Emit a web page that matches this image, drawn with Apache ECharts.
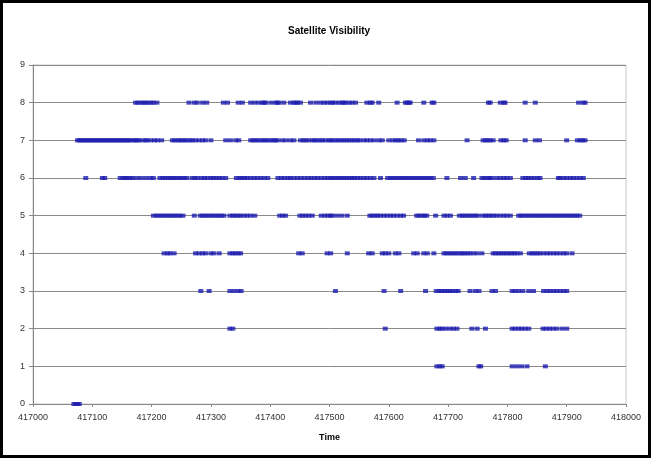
<!DOCTYPE html>
<html><head><meta charset="utf-8">
<script src="https://cdn.jsdelivr.net/npm/echarts@6/dist/echarts.min.js"></script>
<style>html,body{margin:0;padding:0;background:#fff}#c{width:652px;height:460px}</style>
</head><body><div id="c"></div><script>
const chartTitle = 'Satellite Visibility';
const xAxisName = 'Time';
const xTicks = [417000, 417100, 417200, 417300, 417400, 417500, 417600, 417700, 417800, 417900, 418000];
const yTicks = [0, 1, 2, 3, 4, 5, 6, 7, 8, 9];

// Times (x) at which the given number of satellites was visible
const sat0 = [417069, 417072, 417075, 417078];
const sat1 = [417681, 417686, 417690, 417752, 417755, 417808, 417816, 417824, 417833, 417864];
const sat2 = [417332, 417337, 417594, 417681, 417686, 417690, 417696, 417703, 417709, 417715, 417740, 417749, 417763,
  417808, 417813, 417819, 417824, 417830, 417836, 417860, 417865, 417871, 417877, 417883, 417892, 417900];
const sat3 = [417283, 417297, 417332, 417339, 417346, 417351, 417510, 417592, 417620, 417662,
  417680, 417685, 417689, 417694, 417698, 417703, 417707, 417713, 417717, 417737, 417746, 417752, 417774, 417780,
  417808, 417813, 417819, 417826, 417836, 417844, 417861, 417867, 417872, 417878, 417883, 417889, 417895, 417900];
const sat4 = [417221, 417227, 417231, 417238, 417274, 417280, 417286, 417291, 417300, 417305, 417314,
  417332, 417337, 417341, 417346, 417350, 417448, 417454, 417496, 417502, 417530, 417566, 417572,
  417589, 417594, 417600, 417611, 417617, 417642, 417648, 417659, 417665, 417676,
  417693, 417697, 417702, 417706, 417711, 417715, 417720, 417724, 417728, 417733, 417737, 417743, 417749, 417757,
  417776, 417780, 417785, 417789, 417794, 417798, 417803, 417807, 417812, 417816, 417822,
  417837, 417842, 417846, 417851, 417855, 417861, 417867, 417872, 417878, 417883, 417889, 417895, 417900, 417909];
const sat5 = [417203, 417208, 417212, 417217, 417221, 417226, 417230, 417235, 417239, 417244, 417248, 417253, 417272,
  417282, 417286, 417291, 417295, 417300, 417304, 417309, 417313, 417318, 417322,
  417332, 417337, 417341, 417346, 417350, 417356, 417361, 417367, 417374, 417416, 417421, 417426,
  417450, 417455, 417460, 417465, 417471, 417486, 417492, 417497, 417502, 417505, 417513, 417521, 417530,
  417568, 417572, 417577, 417581, 417586, 417592, 417597, 417603, 417608, 417614, 417620, 417625,
  417647, 417651, 417656, 417660, 417664, 417679, 417693, 417698, 417704,
  417719, 417724, 417728, 417733, 417737, 417742, 417746, 417751,
  417759, 417763, 417768, 417772, 417777, 417782, 417788, 417794, 417799, 417805,
  417819, 417823, 417827, 417832, 417836, 417841, 417845, 417850, 417854, 417859, 417863, 417868, 417872, 417877,
  417881, 417886, 417890, 417895, 417899, 417904, 417908, 417913, 417917, 417922];
const sat6 = [417089, 417117, 417121, 417147, 417152, 417156, 417159, 417164, 417168, 417175, 417182, 417190, 417198, 417203,
  417214, 417219, 417223, 417228, 417232, 417237, 417241, 417246, 417250, 417255, 417259,
  417268, 417273, 417277, 417284, 417289, 417294, 417300, 417304, 417309, 417314, 417319, 417325,
  417343, 417348, 417352, 417357, 417361, 417367, 417373, 417378, 417384, 417390, 417396,
  417413, 417419, 417424, 417430, 417434, 417440, 417446, 417452, 417458, 417464, 417469, 417475, 417480, 417486,
  417492, 417497, 417502, 417506, 417511, 417515, 417520, 417524, 417529, 417533, 417538, 417542, 417547, 417552,
  417558, 417563, 417569, 417575, 417586,
  417598, 417603, 417607, 417612, 417616, 417621, 417625, 417630, 417634, 417639, 417643, 417648, 417652, 417657,
  417661, 417666, 417670, 417675, 417698, 417721, 417729, 417743, 417757, 417761, 417766, 417770, 417774,
  417782, 417788, 417794, 417799, 417805, 417826, 417831, 417835, 417840, 417845, 417851, 417855, 417886, 417889,
  417895, 417900, 417906, 417911, 417917, 417923, 417928];
const sat7 = [417075, 417078, 417081, 417084, 417087, 417090, 417093, 417096, 417099, 417102, 417105, 417108, 417111,
  417114, 417117, 417120, 417123, 417126, 417129, 417132, 417135, 417138, 417141, 417144, 417147, 417150, 417153,
  417156, 417159, 417162, 417165, 417170, 417173, 417176, 417179, 417185, 417190, 417193, 417199, 417205, 417210, 417217,
  417235, 417239, 417244, 417248, 417252, 417256, 417260, 417265, 417269, 417274, 417280, 417286, 417291, 417300,
  417325, 417333, 417342, 417347, 417367, 417371, 417375, 417379, 417384, 417388, 417392, 417396, 417401, 417405,
  417409, 417412, 417420, 417426, 417434, 417440, 417451, 417456, 417460, 417465, 417471, 417475, 417479, 417484,
  417488, 417493, 417499, 417502, 417506, 417511, 417515, 417520, 417524, 417529, 417533, 417538, 417542, 417547,
  417551, 417558, 417563, 417569, 417575, 417583, 417589, 417600, 417607, 417612, 417616, 417621, 417626,
  417650, 417659, 417665, 417670, 417676, 417732, 417759, 417763, 417767, 417771, 417776, 417789, 417794, 417798,
  417830, 417847, 417854, 417900, 417918, 417923, 417927, 417931];
const sat8 = [417173, 417177, 417182, 417186, 417190, 417194, 417199, 417203, 417209, 417263, 417272, 417277, 417286, 417293,
  417321, 417328, 417346, 417353, 417367, 417374, 417381, 417387, 417390, 417392, 417401, 417409, 417412, 417415,
  417423, 417434, 417440, 417443, 417446, 417451, 417468, 417477, 417485, 417491, 417496, 417502,
  417505, 417510, 417516, 417521, 417524, 417527, 417533, 417538, 417544, 417563, 417569, 417572, 417583, 417614,
  417628, 417631, 417634, 417636, 417659, 417673, 417676, 417768, 417771, 417788, 417794, 417796, 417830, 417847,
  417920, 417928, 417931];

const levels = [sat0, sat1, sat2, sat3, sat4, sat5, sat6, sat7, sat8];
const points = [];
levels.forEach((arr, n) => arr.forEach(t => points.push([t, n])));

const chart = echarts.init(document.getElementById('c'), null, {renderer: 'canvas'});
const font = '"Liberation Sans", Arial, sans-serif';
chart.setOption({
  animation: false,
  backgroundColor: '#fff',
  title: {
    text: chartTitle, left: 283, top: 21,
    textStyle: {fontFamily: font, fontSize: 10, fontWeight: 'bold', color: '#000'}
  },
  grid: {left: 33, right: 26, top: 65, bottom: 56, show: true, borderColor: '#c8c8c8', borderWidth: 1},
  xAxis: {
    type: 'value', min: xTicks[0], max: xTicks[xTicks.length - 1], interval: 100,
    name: xAxisName, nameLocation: 'middle', nameGap: 29,
    nameTextStyle: {fontFamily: font, fontSize: 9, fontWeight: 'bold', color: '#000'},
    axisLine: {show: true, lineStyle: {color: '#888', width: 1}},
    axisTick: {show: true, length: 3, lineStyle: {color: '#888'}},
    axisLabel: {fontFamily: font, fontSize: 9, color: '#333', margin: 9, formatter: v => String(v)},
    splitLine: {show: false}
  },
  yAxis: {
    type: 'value', min: yTicks[0], max: yTicks[yTicks.length - 1], interval: 1,
    axisLine: {show: true, lineStyle: {color: '#888', width: 1}},
    axisTick: {show: true, length: 4, lineStyle: {color: '#888'}},
    axisLabel: {fontFamily: font, fontSize: 9, color: '#333', margin: 8},
    splitLine: {show: true, lineStyle: {color: '#8a8a8a', width: 1}}
  },
  graphic: [{
    type: 'rect', silent: true, z: 100,
    shape: {x: 1.5, y: 1.5, width: 648, height: 455},
    style: {fill: 'none', stroke: '#000', lineWidth: 3}
  }],
  series: [{
    type: 'scatter', data: points, symbol: 'rect', symbolSize: [5, 4],
    itemStyle: {color: '#1e1eb0'}
  }]
});
</script></body></html>
